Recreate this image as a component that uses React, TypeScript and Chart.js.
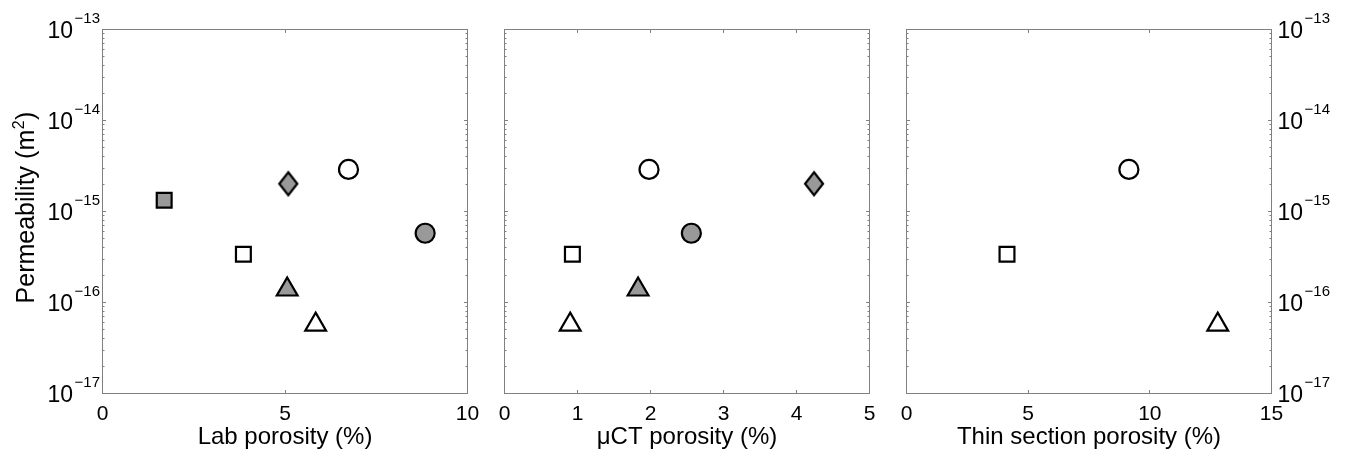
import React, { useEffect, useRef } from 'react';
import { Chart, registerables } from 'chart.js';

Chart.register(...registerables);

// ---------- data ----------
const sampleNames = ['S1', 'S2', 'S3', 'S4', 'S5', 'S6', 'S7'];
const permeability = [1.33e-15, 2.02e-15, 2.9e-15, 5.77e-16, 3.39e-16, 1.39e-16, 5.72e-17];
const labPorosity = [1.69, 5.09, 6.74, 8.84, 3.86, 5.06, 5.84];
const ctPorosity = [null, 4.24, 1.98, 2.56, 0.93, 1.83, 0.9];
const thinPorosity = [null, null, 9.14, null, 4.13, null, 12.79];

const yTickValues = [1e-13, 1e-14, 1e-15, 1e-16, 1e-17];
const labTicks = [0, 5, 10];
const ctTicks = [0, 1, 2, 3, 4, 5];
const thinTicks = [0, 5, 10, 15];
const xTitles = ['Lab porosity (%)', '\u03bcCT porosity (%)', 'Thin section porosity (%)'];
const yTitleMain = 'Permeability (m';
const yTitleSup = '2';
const yTitleEnd = ')';

// ---------- styles ----------
const sampleShape = ['square', 'diamond', 'circle', 'circle', 'square', 'triangle', 'triangle'];
const sampleFilled = [true, true, false, true, false, true, false];
const GRAY = '#999999';
const AXIS = '#808080';
const FONT = '"Liberation Sans", Arial, Helvetica, sans-serif';

type Panel = {
  porosity: (number | null)[];
  ticks: number[];
  title: string;
  ox: number;
  cw: number;
  L: number;
  R: number;
  yLabels: 'left' | 'right' | 'none';
  yTitle: boolean;
};

const TOP = 29.5;
const BOTTOM = 393.5;

const panels: Panel[] = [
  { porosity: labPorosity, ticks: labTicks, title: xTitles[0], ox: 0, cw: 485, L: 102.5, R: 467.5, yLabels: 'left', yTitle: true },
  { porosity: ctPorosity, ticks: ctTicks, title: xTitles[1], ox: 485, cw: 402, L: 504.5, R: 869.5, yLabels: 'none', yTitle: false },
  { porosity: thinPorosity, ticks: thinTicks, title: xTitles[2], ox: 887, cw: 463, L: 906.5, R: 1271.5, yLabels: 'right', yTitle: false },
];

function makeDiamond(fill: string): HTMLCanvasElement {
  const c = document.createElement('canvas');
  c.width = 26;
  c.height = 32;
  const g = c.getContext('2d')!;
  const cx = 13, cy = 16, hw = 9, hh = 11.5;
  g.beginPath();
  g.moveTo(cx, cy - hh);
  g.lineTo(cx + hw, cy);
  g.lineTo(cx, cy + hh);
  g.lineTo(cx - hw, cy);
  g.closePath();
  g.fillStyle = fill;
  g.fill();
  g.lineWidth = 2.2;
  g.lineJoin = 'miter';
  g.strokeStyle = '#000';
  g.stroke();
  return c;
}

function drawPow(ctx: CanvasRenderingContext2D, exp: number, anchor: number, y: number, align: 'left' | 'right') {
  const base = '10';
  const sup = '\u2212' + Math.abs(exp);
  ctx.font = `23px ${FONT}`;
  const wb = ctx.measureText(base).width;
  ctx.font = `15px ${FONT}`;
  const ws = ctx.measureText(sup).width;
  const gap = 1.5;
  const total = wb + gap + ws;
  const x0 = align === 'right' ? anchor - total : anchor;
  ctx.textAlign = 'left';
  ctx.textBaseline = 'alphabetic';
  ctx.font = `23px ${FONT}`;
  ctx.fillText(base, x0, y + 8.3);
  ctx.font = `15px ${FONT}`;
  ctx.fillText(sup, x0 + wb + gap, y - 6.3);
}

function framePlugin(p: Panel) {
  return {
    id: 'frame',
    beforeDatasetsDraw(chart: any) {
      const { ctx, chartArea: a, scales } = chart;
      const xs = scales.x, ys = scales.y;
      ctx.save();
      ctx.strokeStyle = AXIS;
      ctx.lineWidth = 1;
      ctx.strokeRect(a.left, a.top, a.right - a.left, a.bottom - a.top);
      ctx.beginPath();
      const major = 3.5, minor = 2;
      p.ticks.forEach((v) => {
        const px = Math.round(xs.getPixelForValue(v) - 0.5) + 0.5;
        ctx.moveTo(px, a.bottom);
        ctx.lineTo(px, a.bottom - major);
        ctx.moveTo(px, a.top);
        ctx.lineTo(px, a.top + major);
      });
      yTickValues.forEach((v) => {
        const py = Math.round(ys.getPixelForValue(v) - 0.5) + 0.5;
        ctx.moveTo(a.left, py);
        ctx.lineTo(a.left + major, py);
        ctx.moveTo(a.right, py);
        ctx.lineTo(a.right - major, py);
      });
      for (let d = -17; d <= -14; d++) {
        for (let m = 2; m <= 9; m++) {
          const v = m * Math.pow(10, d);
          const py = Math.round(ys.getPixelForValue(v) - 0.5) + 0.5;
          ctx.moveTo(a.left, py);
          ctx.lineTo(a.left + minor, py);
          ctx.moveTo(a.right, py);
          ctx.lineTo(a.right - minor, py);
        }
      }
      ctx.stroke();
      ctx.restore();
    },
    afterDraw(chart: any) {
      const { ctx, chartArea: a, scales } = chart;
      const xs = scales.x, ys = scales.y;
      ctx.save();
      ctx.fillStyle = '#000';
      ctx.font = `21px ${FONT}`;
      ctx.textAlign = 'center';
      ctx.textBaseline = 'alphabetic';
      p.ticks.forEach((v) => {
        ctx.fillText(String(v), xs.getPixelForValue(v), 420);
      });
      ctx.font = `24px ${FONT}`;
      ctx.fillText(p.title, (a.left + a.right) / 2, 444);
      if (p.yLabels !== 'none') {
        yTickValues.forEach((v) => {
          const py = ys.getPixelForValue(v);
          const e = Math.round(Math.log10(v));
          if (p.yLabels === 'left') drawPow(ctx, e, a.left - 2.5, py, 'right');
          else drawPow(ctx, e, a.right + 6, py, 'left');
        });
      }
      if (p.yTitle) {
        ctx.save();
        ctx.translate(33.5, (a.top + a.bottom) / 2 - 4);
        ctx.rotate(-Math.PI / 2);
        ctx.textAlign = 'left';
        ctx.font = `25px ${FONT}`;
        const w1 = ctx.measureText(yTitleMain).width;
        const w3 = ctx.measureText(yTitleEnd).width;
        ctx.font = `16px ${FONT}`;
        const w2 = ctx.measureText(yTitleSup).width;
        const total = w1 + w2 + w3 + 1;
        let x = -total / 2;
        ctx.font = `25px ${FONT}`;
        ctx.fillText(yTitleMain, x, 0);
        x += w1 + 0.5;
        ctx.font = `16px ${FONT}`;
        ctx.fillText(yTitleSup, x, -10);
        x += w2 + 0.5;
        ctx.font = `25px ${FONT}`;
        ctx.fillText(yTitleEnd, x, 0);
        ctx.restore();
      }
      ctx.restore();
    },
  };
}

function buildDatasets(p: Panel) {
  const diamondFilled = makeDiamond(GRAY);
  const diamondOpen = makeDiamond('#ffffff');
  const sets: any[] = [];
  sampleNames.forEach((name, i) => {
    const xv = p.porosity[i];
    if (xv === null || xv === undefined) return;
    const shape = sampleShape[i];
    const fill = sampleFilled[i] ? GRAY : '#ffffff';
    let pointStyle: any = 'circle';
    let radius = 9.5;
    if (shape === 'square') { pointStyle = 'rect'; radius = 10.5; }
    else if (shape === 'triangle') { pointStyle = 'triangle'; radius = 12; }
    else if (shape === 'diamond') { pointStyle = sampleFilled[i] ? diamondFilled : diamondOpen; radius = 10; }
    sets.push({
      label: name,
      data: [{ x: xv, y: permeability[i] }],
      pointStyle,
      pointRadius: radius,
      pointBackgroundColor: fill,
      pointBorderColor: '#000000',
      pointBorderWidth: 2.2,
      showLine: false,
    });
  });
  return sets;
}

export default function App() {
  const r0 = useRef<HTMLCanvasElement>(null);
  const r1 = useRef<HTMLCanvasElement>(null);
  const r2 = useRef<HTMLCanvasElement>(null);
  const refs = [r0, r1, r2];

  useEffect(() => {
    const charts = panels.map((p, i) => {
      const canvas = refs[i].current!;
      return new Chart(canvas, {
        type: 'scatter',
        data: { datasets: buildDatasets(p) },
        options: {
          responsive: false,
          maintainAspectRatio: false,
          animation: false,
          devicePixelRatio: 1,
          events: [],
          layout: {
            padding: {
              left: p.L - p.ox,
              right: p.ox + p.cw - p.R,
              top: TOP,
              bottom: 456 - BOTTOM,
            },
          },
          plugins: { legend: { display: false }, tooltip: { enabled: false } },
          scales: {
            x: {
              type: 'linear',
              display: false,
              min: p.ticks[0],
              max: p.ticks[p.ticks.length - 1],
            },
            y: {
              type: 'logarithmic',
              display: false,
              min: yTickValues[yTickValues.length - 1],
              max: yTickValues[0],
            },
          },
        },
        plugins: [framePlugin(p)],
      } as any);
    });
    return () => charts.forEach((c) => c.destroy());
  }, []);

  return (
    <div style={{ position: 'absolute', left: 0, top: 0, width: 1350, height: 456, background: '#ffffff' }}>
      {panels.map((p, i) => (
        <canvas
          key={i}
          ref={refs[i]}
          width={p.cw}
          height={456}
          style={{ position: 'absolute', left: p.ox, top: 0, width: p.cw, height: 456 }}
        />
      ))}
    </div>
  );
}
